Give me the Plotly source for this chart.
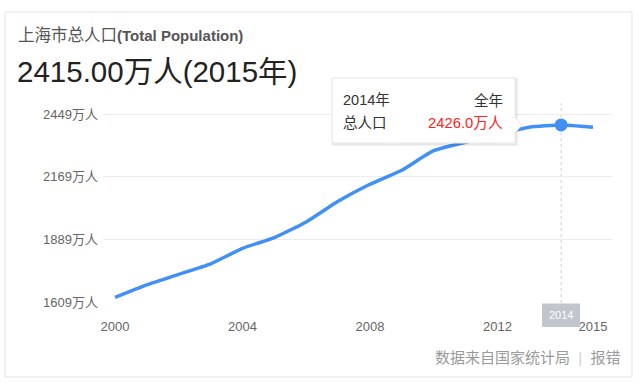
import plotly.graph_objects as go

# ---- data ----
years = list(range(2000, 2016))
population = [1631, 1687, 1734, 1781, 1850, 1898, 1968, 2060, 2136, 2199, 2286, 2324, 2359, 2391, 2401, 2391]
y_tick_vals = [1609, 1889, 2169, 2449]
y_tick_text = [f"{v}万人" for v in y_tick_vals]
x_tick_vals = [2000, 2004, 2008, 2012, 2015]
highlight_year = 2014
title_cn = "上海市总人口"
title_en = "(Total Population)"
headline_text = "2415.00万人(2015年)"
tip_year = "2014年"
tip_period = "全年"
tip_label = "总人口"
tip_value = "2426.0万人"
source_text = "数据来自国家统计局"
report_text = "报错"

FONT = "Arial, 'Liberation Sans', 'Noto Sans CJK SC', sans-serif"
BLUE = "#4190f4"

# plot-area pixel box
L, R, T, B = 103, 612, 103, 303


def px(x):
    return (x - L) / (R - L)


def py(y):
    return (B - y) / (B - T)


hi = years.index(highlight_year)

fig = go.Figure()
fig.add_trace(go.Scatter(
    x=years, y=population, mode="lines",
    line=dict(color=BLUE, width=3.5, shape="spline", smoothing=0.5),
    hoverinfo="skip", showlegend=False,
))
fig.add_trace(go.Scatter(
    x=[years[hi]], y=[population[hi]], mode="markers",
    marker=dict(color=BLUE, size=13),
    hoverinfo="skip", showlegend=False,
))

shapes = []
# card border
shapes.append(dict(type="rect", xref="paper", yref="paper",
                   x0=px(5), x1=px(632), y0=py(377), y1=py(12),
                   line=dict(color="#e2e2e2", width=1), fillcolor="rgba(0,0,0,0)", layer="below"))
# crosshair
shapes.append(dict(type="line", xref="x", yref="paper", x0=highlight_year, x1=highlight_year,
                   y0=0, y1=1, line=dict(color="#d0d0d0", width=1, dash="dot"), layer="below"))
# tooltip shadow + box
shapes.append(dict(type="rect", xref="paper", yref="paper",
                   x0=px(333), x1=px(517), y0=py(145), y1=py(79),
                   line=dict(color="rgba(0,0,0,0.06)", width=2), fillcolor="rgba(0,0,0,0.04)"))
shapes.append(dict(type="rect", xref="paper", yref="paper",
                   x0=px(332), x1=px(515), y0=py(143), y1=py(78),
                   line=dict(color="#e4e4e4", width=1), fillcolor="white"))
# tooltip pointer
shapes.append(dict(type="path", xref="paper", yref="paper",
                   path=f"M {px(515)},{py(117)} L {px(522)},{py(125)} L {px(515)},{py(133)} Z",
                   line=dict(color="#e4e4e4", width=1), fillcolor="white"))
shapes.append(dict(type="line", xref="paper", yref="paper",
                   x0=px(515), x1=px(515), y0=py(118), y1=py(132),
                   line=dict(color="white", width=2)))
# highlighted x label box
shapes.append(dict(type="rect", xref="paper", yref="paper",
                   x0=px(542), x1=px(580), y0=py(327), y1=py(303.5),
                   line=dict(width=0), fillcolor="#c1c5cc"))

annotations = [
    dict(text=f"<span style='font-size:16.5px'>{title_cn}</span><b>{title_en}</b>",
         x=px(16), y=py(35), xanchor="left", yanchor="middle",
         font=dict(size=15, color="#555555", family=FONT)),
    dict(text=headline_text, x=px(15), y=py(71), xanchor="left", yanchor="middle",
         font=dict(size=29.5, color="#222222", family=FONT)),
    dict(text=tip_year, x=px(341), y=py(100), xanchor="left", yanchor="middle",
         font=dict(size=14.5, color="#333333", family=FONT)),
    dict(text=tip_period, x=px(505), y=py(100), xanchor="right", yanchor="middle",
         font=dict(size=14.5, color="#333333", family=FONT)),
    dict(text=tip_label, x=px(341), y=py(123), xanchor="left", yanchor="middle",
         font=dict(size=14.5, color="#333333", family=FONT)),
    dict(text=tip_value, x=px(505), y=py(123), xanchor="right", yanchor="middle",
         font=dict(size=14.8, color="#ff2222", family=FONT)),
    dict(text=str(highlight_year), x=px(561), y=py(315), xanchor="center", yanchor="middle",
         font=dict(size=11, color="white", family=FONT)),
    dict(text=source_text + "  <span style='color:#d0d0d0'>|</span>  " + report_text,
         x=px(623), y=py(357), xanchor="right", yanchor="middle",
         font=dict(size=15, color="#9a9a9a", family=FONT)),
]
for a in annotations:
    a.update(xref="paper", yref="paper", showarrow=False)

fig.update_layout(
    width=640, height=386,
    margin=dict(l=L, r=640 - R, t=T, b=386 - B),
    paper_bgcolor="white", plot_bgcolor="white",
    font=dict(family=FONT, color="#666666", size=13),
    shapes=shapes, annotations=annotations,
    hovermode=False,
    xaxis=dict(range=[2000 - 12 / 31.867, 2015 + 19 / 31.867], tickvals=x_tick_vals,
               showgrid=False, zeroline=False, showline=False, ticks="",
               ticklabelstandoff=14, tickfont=dict(size=13, color="#666666"), fixedrange=True),
    yaxis=dict(range=[1606, 2499], tickvals=y_tick_vals, ticktext=y_tick_text,
               showgrid=True, gridcolor="#ececec", gridwidth=1, zeroline=False, showline=False,
               ticks="", ticklabelstandoff=4, tickfont=dict(size=13, color="#666666"), fixedrange=True),
)

fig.write_html("out.html", config={"displayModeBar": False},
               post_script="document.body.style.margin='0';document.body.style.overflow='hidden';")
